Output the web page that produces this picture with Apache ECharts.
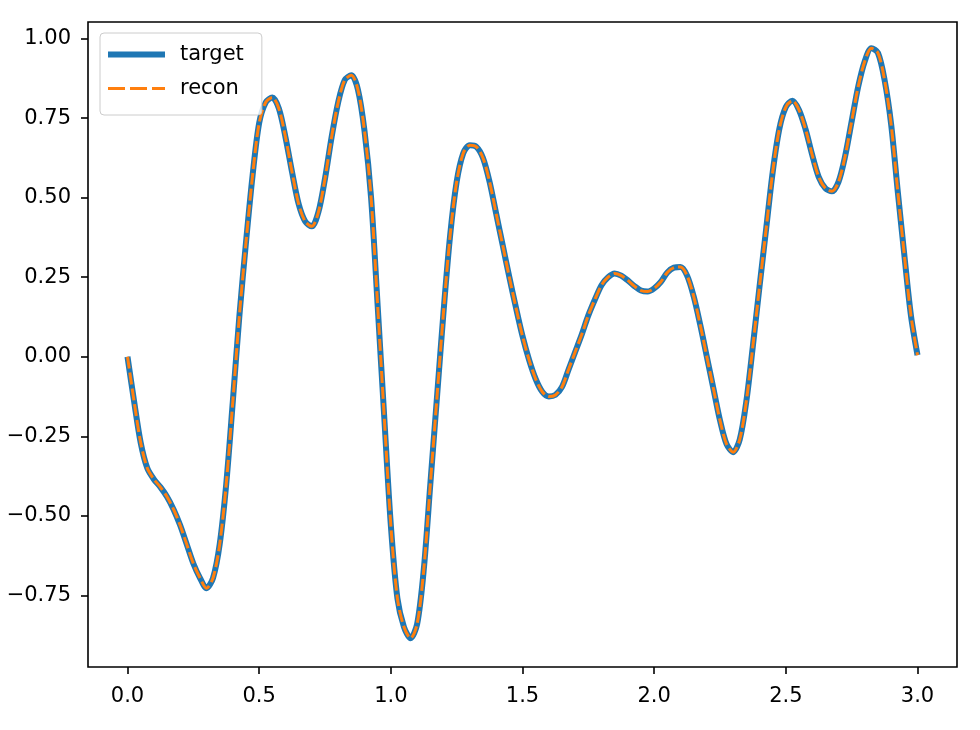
<!DOCTYPE html>
<html>
<head>
<meta charset="utf-8">
<script src="https://cdn.jsdelivr.net/npm/echarts@6/dist/echarts.min.js"></script>
<style>
  html, body { margin: 0; padding: 0; background: #fff; }
  #chart { width: 980px; height: 730px; }
</style>
</head>
<body>
<div id="chart"></div>
<script>
  // sample grid: 0 .. 3 in steps of 0.025
  const xStep = 0.025
  // target signal, one value per grid step
  const target = [
    0.00, -0.14, -0.27, -0.35, -0.385, -0.41, -0.44, -0.48, -0.53, -0.59,
    -0.65, -0.695, -0.728, -0.695, -0.59, -0.40, -0.14, 0.13, 0.36, 0.57,
    0.735, 0.80, 0.815, 0.78, 0.69, 0.58, 0.48, 0.425, 0.41, 0.455,
    0.56, 0.69, 0.80, 0.87, 0.885, 0.84, 0.71, 0.50, 0.16, -0.19,
    -0.53, -0.76, -0.85, -0.885, -0.84, -0.67, -0.40, -0.13, 0.14, 0.38,
    0.55, 0.64, 0.665, 0.66, 0.625, 0.55, 0.45, 0.35, 0.25, 0.155,
    0.065, -0.01, -0.07, -0.11, -0.125, -0.12, -0.095, -0.04, 0.015, 0.07,
    0.13, 0.18, 0.225, 0.25, 0.262, 0.255, 0.24, 0.222, 0.208, 0.205,
    0.215, 0.235, 0.265, 0.28, 0.282, 0.255, 0.19, 0.10, 0.00, -0.10,
    -0.20, -0.275, -0.30, -0.26, -0.14, 0.035, 0.22, 0.40, 0.58, 0.715,
    0.785, 0.805, 0.776, 0.715, 0.635, 0.565, 0.53, 0.52, 0.55, 0.63,
    0.74, 0.85, 0.93, 0.97, 0.955, 0.87, 0.73, 0.52, 0.32, 0.13,
    0.005
  ]
  // reconstruction lies on the target everywhere in the picture
  const recon = target.slice()

  const xTicks = [0, 0.5, 1.0, 1.5, 2.0, 2.5, 3.0]
  const yTicks = [-0.75, -0.5, -0.25, 0, 0.25, 0.5, 0.75, 1.0]

  const xs = target.map((v, i) => +(i * xStep).toFixed(3))
  const pairs = (arr) => arr.map((v, i) => [xs[i], v])

  const font = 'DejaVu Sans'
  const chart = echarts.init(document.getElementById('chart'), null, { renderer: 'canvas' })

  const option = {
    animation: false,
    backgroundColor: '#fff',
    grid: {
      left: 88,
      right: 23,
      top: 22,
      bottom: 63,
      show: true,
      borderColor: '#000',
      borderWidth: 1.6,
      backgroundColor: 'transparent'
    },
    legend: {
      left: 100,
      top: 33,
      orient: 'vertical',
      itemWidth: 57,
      itemHeight: 14,
      itemGap: 13,
      padding: [11, 18, 16, 5],
      backgroundColor: 'rgba(255,255,255,0.8)',
      borderColor: '#cccccc',
      borderWidth: 1,
      borderRadius: 4,
      itemStyle: { opacity: 0 },
      textStyle: {
        fontFamily: font,
        fontSize: 21,
        color: '#000',
        padding: [0, 0, 0, 10]
      },
      data: [
        { name: 'target', lineStyle: { width: 6, color: '#1f77b4' } },
        { name: 'recon', lineStyle: { width: 3, color: '#ff7f0e', type: [17, 5] } }
      ]
    },
    xAxis: {
      type: 'value',
      min: -0.15,
      max: 3.15,
      axisLine: { show: false, onZero: false },
      splitLine: { show: false },
      axisTick: {
        show: true,
        length: 7,
        customValues: xTicks,
        lineStyle: { color: '#000', width: 1.6 }
      },
      axisLabel: {
        customValues: xTicks,
        margin: 19,
        fontFamily: font,
        fontSize: 21,
        color: '#000',
        formatter: (v) => v.toFixed(1)
      }
    },
    yAxis: {
      type: 'value',
      min: -0.9755,
      max: 1.0525,
      axisLine: { show: false, onZero: false },
      splitLine: { show: false },
      axisTick: {
        show: true,
        length: 7,
        customValues: yTicks,
        lineStyle: { color: '#000', width: 1.6 }
      },
      axisLabel: {
        customValues: yTicks,
        margin: 17,
        fontFamily: font,
        fontSize: 21,
        color: '#000',
        formatter: (v) => (v < 0 ? '\u2212' : '') + Math.abs(v).toFixed(2)
      }
    },
    series: [
      {
        name: 'target',
        type: 'line',
        data: pairs(target),
        symbol: 'none',
        smooth: 0.3,
        lineStyle: { color: '#1f77b4', width: 6, join: 'round' },
        itemStyle: { color: '#1f77b4' }
      },
      {
        name: 'recon',
        type: 'line',
        data: pairs(recon),
        symbol: 'none',
        smooth: 0.3,
        lineStyle: { color: '#ff7f0e', width: 3, type: [12, 4], join: 'round' },
        itemStyle: { color: '#ff7f0e' }
      }
    ]
  }

  chart.setOption(option)
</script>
</body>
</html>
